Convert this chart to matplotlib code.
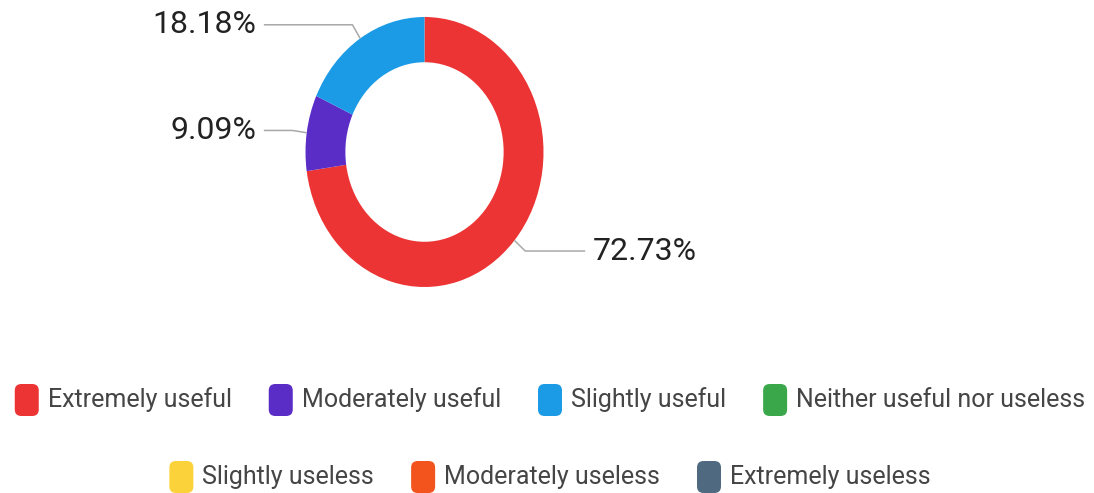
import numpy as np
import matplotlib.pyplot as plt
from matplotlib.patches import FancyBboxPatch

plt.rcParams['font.family'] = ['Roboto', 'DejaVu Sans']

categories = ['Extremely useful', 'Moderately useful', 'Slightly useful',
              'Neither useful nor useless', 'Slightly useless',
              'Moderately useless', 'Extremely useless']
shares = [72.73, 9.09, 18.18, 0.0, 0.0, 0.0, 0.0]
colors = ['#ec3434', '#5a2dc6', '#1b9be6', '#3aa84a', '#fbd23a', '#f3531c', '#4f6a80']

W, H = 1094, 493
fig = plt.figure(figsize=(W / 100, H / 100), dpi=100)

# donut axes, in pixels: centre (424.5, 152), half sizes 119 x 135
cx, cy, rx, ry = 424.5, 152, 119, 135
ax = fig.add_axes([(cx - rx) / W, (H - cy - ry) / H, 2 * rx / W, 2 * ry / H])

vals = [v for v in shares if v > 0]
cols = [c for v, c in zip(shares, colors) if v > 0]
wedges, _ = ax.pie(vals, colors=cols, startangle=90, counterclock=False,
                   radius=1.0, wedgeprops=dict(width=0.335, linewidth=0))
ax.set_aspect('auto')
ax.set_xlim(-1, 1)
ax.set_ylim(-1, 1)
ax.axis('off')

# leader lines and percentage labels
for w, v in zip(wedges, vals):
    mid = np.deg2rad((w.theta1 + w.theta2) / 2)
    ex, ey = np.cos(mid), np.sin(mid)
    bx, by = 1.12 * ex, 1.12 * ey
    side = 1 if ex > 0 else -1
    hx = 1.35 * side
    ax.plot([ex, bx, hx], [ey, by, by], color='#a8a8a8', lw=1.1,
            clip_on=False, solid_capstyle='butt')
    ax.text(hx + 0.065 * side, by, f'{v:.2f}%', ha='left' if side > 0 else 'right',
            va='center', fontsize=23, color='#222222', clip_on=False)

# legend rows laid out in figure pixels
rows = [categories[:4], categories[4:]]
row_y = [400, 477]
sq_w, sq_h = 24, 32
txt_gap, item_gap = 9, 37
renderer = fig.canvas.get_renderer()
idx = 0
for names, y in zip(rows, row_y):
    texts = []
    for name in names:
        t = fig.text(0, 1 - y / H, name, fontsize=18, color='#454545',
                     ha='left', va='center')
        texts.append(t)
    widths = [t.get_window_extent(renderer).width for t in texts]
    total = sum(sq_w + txt_gap + w for w in widths) + item_gap * (len(names) - 1)
    x = 550 - total / 2
    for t, w in zip(texts, widths):
        box = FancyBboxPatch((x / W, 1 - (y + sq_h / 2) / H), sq_w / W, sq_h / H,
                             boxstyle='round,pad=0,rounding_size=0.006',
                             transform=fig.transFigure, facecolor=colors[idx],
                             edgecolor='none', mutation_aspect=W / H)
        fig.patches.append(box)
        t.set_x((x + sq_w + txt_gap) / W)
        x += sq_w + txt_gap + w + item_gap
        idx += 1

fig.savefig('out.png', dpi=100, facecolor='white')
